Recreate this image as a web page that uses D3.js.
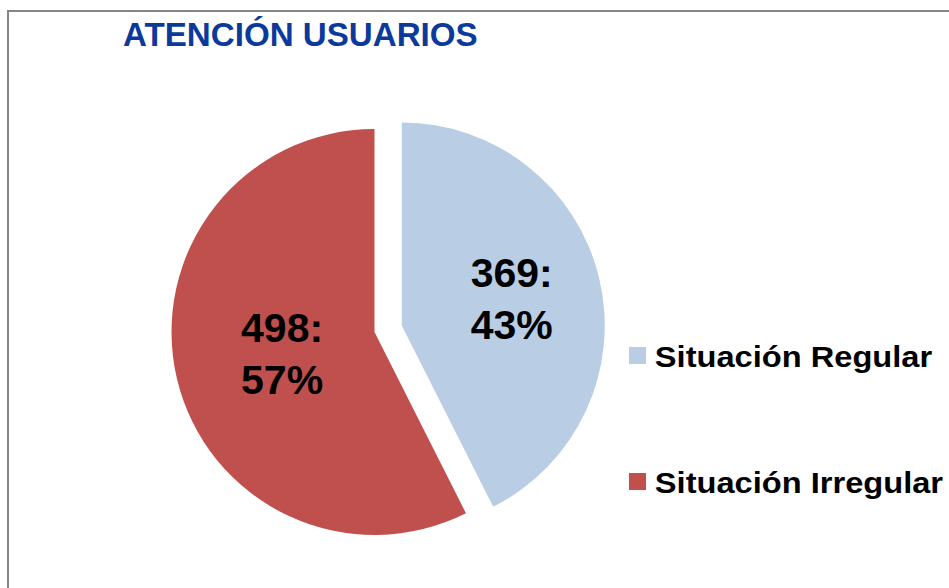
<!DOCTYPE html>
<html>
<head>
<meta charset="utf-8">
<script src="https://cdn.jsdelivr.net/npm/d3@7"></script>
<style>
  body { margin: 0; background: #fff; }
  text { font-family: "Liberation Sans", Arial, sans-serif; font-weight: bold; }
</style>
</head>
<body>
<svg id="chart" width="949" height="588"></svg>
<script>
var categories = ['Situación Regular', 'Situación Irregular'];
var values     = [369, 498];
var colors     = ['#B9CDE5', '#C0504D'];
var title      = 'ATENCIÓN USUARIOS';

var svg = d3.select('#chart');
var cx = 374.5, cy = 332, radius = 203, explode = 28;

// marco del gráfico (sale por la derecha y abajo)
svg.append('rect')
	.attr('x', 8).attr('y', 11)
	.attr('width', 960).attr('height', 600)
	.attr('fill', 'none')
	.attr('stroke', '#868686')
	.attr('stroke-width', 2);

svg.append('text')
	.attr('x', 123).attr('y', 46)
	.attr('fill', '#0B3A9C')
	.style('font-size', '32.5px')
	.attr('transform', 'translate(123,0) scale(1.02,1) translate(-123,0)')
	.text(title);

var total = d3.sum(values);
var pie = d3.pie().sort(null).value(function(d){ return d; });
var arc = d3.arc().innerRadius(0).outerRadius(radius);
var arcs = pie(values);

// solo se separa el primer trozo
var offsets = arcs.map(function(d, i){
	var a = (d.startAngle + d.endAngle) / 2, r = i === 0 ? explode : 0;
	return [Math.sin(a) * r, -Math.cos(a) * r];
});

var slices = svg.append('g').attr('transform', 'translate(' + cx + ',' + cy + ')')
	.selectAll('g.slice').data(arcs).enter()
	.append('g')
	.attr('class', 'slice')
	.attr('transform', function(d, i){ return 'translate(' + offsets[i][0] + ',' + offsets[i][1] + ')'; });

slices.append('path')
	.attr('d', arc)
	.attr('fill', function(d, i){ return colors[i]; });

var labelR = [113, 95];
slices.each(function(d, i){
	var a = (d.startAngle + d.endAngle) / 2;
	var x = Math.sin(a) * labelR[i], y = -Math.cos(a) * labelR[i];
	var t = d3.select(this).append('text')
		.attr('text-anchor', 'middle')
		.attr('fill', '#000')
		.style('font-size', '41px');
	t.append('tspan').attr('x', x).attr('y', y - 12).text(d.data + ':');
	t.append('tspan').attr('x', x).attr('y', y + 40).text(Math.round(d.data / total * 100) + '%');
});

// leyenda
var legend = svg.append('g').selectAll('g').data(categories).enter()
	.append('g')
	.attr('transform', function(d, i){ return 'translate(629,' + (347 + i * 126) + ')'; });

legend.append('rect')
	.attr('width', 17).attr('height', 17)
	.attr('fill', function(d, i){ return colors[i]; });

legend.append('text')
	.attr('x', 23).attr('y', 20)
	.attr('fill', '#000')
	.style('font-size', '29px')
	.attr('transform', 'scale(1.125,1)')
	.text(function(d){ return d; });
</script>
</body>
</html>
